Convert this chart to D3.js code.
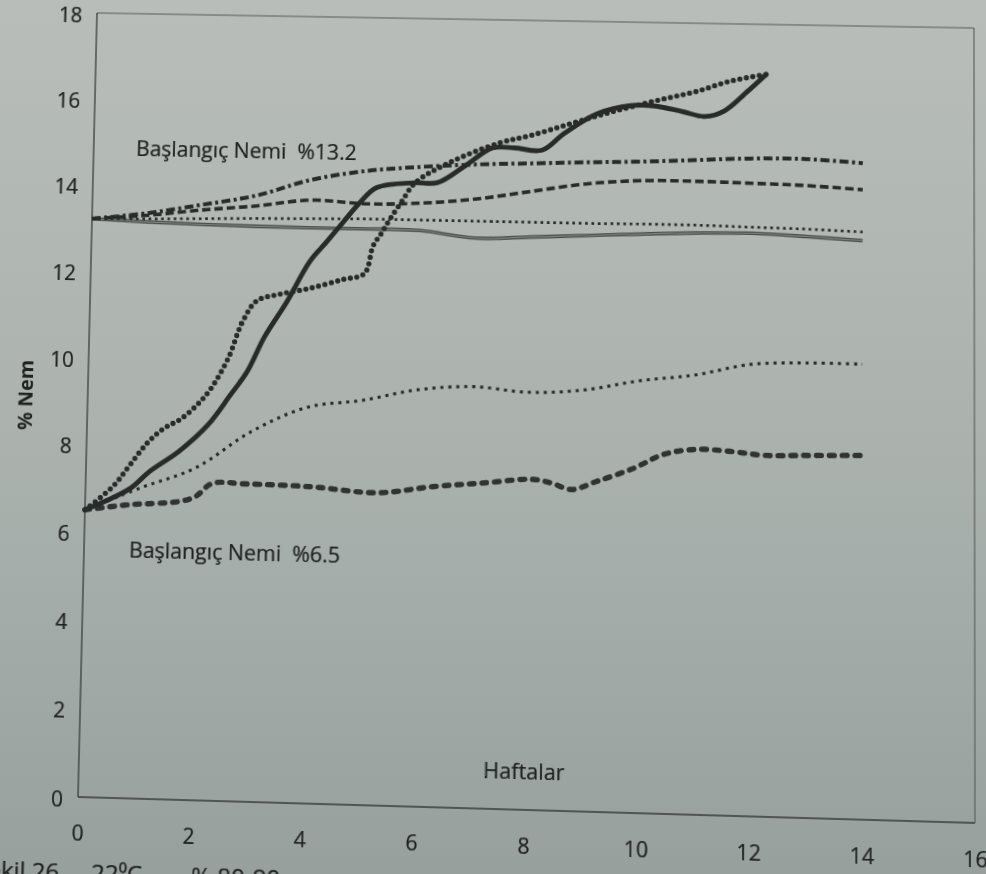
<!DOCTYPE html>
<html>
<head>
<meta charset="utf-8">
<script src="https://cdn.jsdelivr.net/npm/d3@7"></script>
<style>
  html, body { margin: 0; padding: 0; width: 986px; height: 874px; overflow: hidden; }
  body { background: linear-gradient(180deg, #b8bdb9 0%, #aeb5b1 40%, #a2aaa7 75%, #98a09d 100%); }
  #chart { position: absolute; left: 0; top: 0; }
  #chart svg { display: block; transform-origin: 0 0; overflow: visible; }
  text { font-family: "Open Sans", sans-serif; fill: #1e2120; }
</style>
</head>
<body>
<div id="chart"></div>
<script>
// Tick labels
const xTicks = [0, 2, 4, 6, 8, 10, 12, 14, 16];
const yTicks = [0, 2, 4, 6, 8, 10, 12, 14, 16, 18];

// Haftalar (weeks)
const hafta = [0, 1, 2, 3, 4, 5, 6, 7, 8, 9, 10, 11, 12, 13, 14];
const haftaKalinKesik = [0, 0.8, 1.7, 2.0, 2.3, 2.9, 4.1, 5.3, 6.3, 7.2, 8.1, 8.45, 8.8, 9.25, 9.9, 10.45, 11.05, 11.65, 12.25, 13, 14];
const haftaIriNokta = [0, 0.5, 0.8, 1.1, 1.4, 1.7, 2.0, 2.25, 2.55, 2.8, 3.05, 3.45, 4.0, 4.6, 5.0, 5.15, 5.3, 5.45, 5.65, 5.9, 6.5, 7.4, 8.0, 8.6, 9.2, 9.8, 10.4, 11.0, 11.6, 12.25];
const haftaKalinDuz = [0, 0.8, 1.15, 1.7, 2.2, 2.6, 2.9, 3.2, 3.6, 4.0, 4.3, 4.6, 4.9, 5.2, 5.9, 6.3, 6.8, 7.3, 7.7, 8.2, 8.6, 9.2, 9.8, 10.25, 10.75, 11.15, 11.5, 11.9, 12.25];

// % Nem, start 13.2
const nemNoktaCizgi = [13.2, 13.35, 13.57, 13.81, 14.2, 14.43, 14.55, 14.63, 14.68, 14.73, 14.77, 14.83, 14.89, 14.9, 14.83];
const nemKesik132 = [13.2, 13.3, 13.45, 13.57, 13.73, 13.67, 13.71, 13.83, 14.03, 14.23, 14.33, 14.34, 14.32, 14.29, 14.22];
const nemNokta132 = [13.2, 13.22, 13.25, 13.28, 13.3, 13.32, 13.32, 13.32, 13.32, 13.32, 13.33, 13.33, 13.31, 13.29, 13.25];
const nemInce132 = [13.2, 13.15, 13.12, 13.1, 13.09, 13.09, 13.08, 12.93, 12.98, 13.04, 13.1, 13.15, 13.17, 13.12, 13.05];

// % Nem, start 6.5
const nemNokta65 = [6.5, 7.03, 7.52, 8.38, 8.96, 9.15, 9.42, 9.52, 9.42, 9.5, 9.74, 9.9, 10.17, 10.23, 10.23];
const nemKalinKesik = [6.5, 6.64, 6.74, 6.86, 7.17, 7.18, 7.15, 7.05, 7.22, 7.33, 7.44, 7.36, 7.23, 7.43, 7.74, 8.08, 8.21, 8.18, 8.11, 8.13, 8.16];
const nemIriNokta = [6.5, 7.05, 7.55, 8.05, 8.4, 8.62, 8.96, 9.35, 10.05, 10.9, 11.38, 11.54, 11.69, 11.91, 12.06, 12.7, 13.0, 13.33, 13.72, 14.18, 14.65, 15.13, 15.33, 15.57, 15.81, 16.03, 16.23, 16.42, 16.67, 16.84];
const nemKalinDuz = [6.5, 7.0, 7.4, 7.9, 8.5, 9.2, 9.75, 10.55, 11.38, 12.31, 12.77, 13.24, 13.7, 14.05, 14.18, 14.19, 14.59, 15.02, 15.03, 14.99, 15.39, 15.86, 16.06, 16.06, 15.94, 15.84, 15.98, 16.42, 16.84];

// caption of the page (only its top shows at the photo edge)
const altYazi = ['Şekil 26.', '22⁰C', '% 80-90'];

const ink = '#282b2a';
const textInk = '#1e2120';

// line styles
const styles = {
  ince:       { stroke: '#4a4d4c', width: 3.6, dash: null, cap: 'butt', inner: '#7f8482' },
  nokta:      { stroke: ink, width: 2.7, dash: '2.7 3.7', cap: 'butt' },
  kesik:      { stroke: ink, width: 3.6, dash: '8.5 4', cap: 'butt' },
  noktaCizgi: { stroke: ink, width: 4, dash: '9 3.5 3 3.5', cap: 'butt' },
  noktaAlt:   { stroke: ink, width: 3.1, dash: '3.1 4.9', cap: 'butt' },
  kalinKesik: { stroke: '#303332', width: 5.4, dash: '4.7 8', cap: 'round' },
  iriNokta:   { stroke: ink, width: 5.3, dash: '0 6.6', cap: 'round' },
  kalinDuz:   { stroke: ink, width: 4.9, dash: null, cap: 'round' }
};

const series = [
  { xs: hafta, ys: nemInce132, s: styles.ince },
  { xs: hafta, ys: nemNokta132, s: styles.nokta },
  { xs: hafta, ys: nemKesik132, s: styles.kesik },
  { xs: hafta, ys: nemNoktaCizgi, s: styles.noktaCizgi },
  { xs: hafta, ys: nemNokta65, s: styles.noktaAlt },
  { xs: haftaKalinKesik, ys: nemKalinKesik, s: styles.kalinKesik },
  { xs: haftaIriNokta, ys: nemIriNokta, s: styles.iriNokta },
  { xs: haftaKalinDuz, ys: nemKalinDuz, s: styles.kalinDuz }
];

// flat chart geometry, later warped to follow the photographed page
const W = 986, H = 920;
const plot = { left: 88, top: 19, right: 976, bottom: 810 };
// where the four plot corners sit in the photo (TL, TR, BR, BL)
const photoCorners = [[97, 13], [974, 28], [975, 823], [78, 797]];

const svg = d3.select('#chart')
  .append('svg')
  .attr('width', W)
  .attr('height', H);

const x = d3.scaleLinear().domain([0, 16]).range([plot.left, plot.right]);
const y = d3.scaleLinear().domain([0, 18]).range([plot.bottom, plot.top]);

const styleTicks = (g) => g.selectAll('.tick text')
  .attr('font-size', 21)
  .attr('fill', textInk)
  .attr('stroke', textInk)
  .attr('stroke-width', 0.25)
  .attr('font-family', '"Open Sans", sans-serif');

// Y axis labels
svg.append('g')
  .attr('transform', `translate(${plot.left},0)`)
  .call(d3.axisLeft(y).tickValues(yTicks).tickSize(0).tickPadding(15))
  .call((g) => g.select('.domain').remove())
  .call(styleTicks)
  .call((g) => g.selectAll('.tick text').attr('dy', '0.45em'));

// X axis labels
svg.append('g')
  .attr('transform', `translate(0,${plot.bottom})`)
  .call(d3.axisBottom(x).tickValues(xTicks).tickSize(0).tickPadding(28))
  .call((g) => g.select('.domain').remove())
  .call(styleTicks);

// plot frame
svg.append('line')
  .attr('x1', plot.left).attr('x2', plot.right)
  .attr('y1', plot.top).attr('y2', plot.top)
  .attr('stroke', '#565a58').attr('stroke-width', 1.1);
svg.append('line')
  .attr('x1', plot.right).attr('x2', plot.right)
  .attr('y1', plot.top).attr('y2', plot.bottom)
  .attr('stroke', '#565a58').attr('stroke-width', 1.1);
svg.append('line')
  .attr('x1', plot.left).attr('x2', plot.left)
  .attr('y1', plot.top).attr('y2', plot.bottom)
  .attr('stroke', '#383b3a').attr('stroke-width', 1.3);
svg.append('line')
  .attr('x1', plot.left).attr('x2', plot.right)
  .attr('y1', plot.bottom).attr('y2', plot.bottom)
  .attr('stroke', '#383b3a').attr('stroke-width', 1.6);

// Lines
const line = d3.line()
  .x((d) => x(d[0]))
  .y((d) => y(d[1]))
  .curve(d3.curveCatmullRom.alpha(0.5));

series.forEach((sr) => {
  const pts = sr.xs.map((v, i) => [v, sr.ys[i]]);
  const p = svg.append('path')
    .attr('fill', 'none')
    .attr('stroke', sr.s.stroke)
    .attr('stroke-width', sr.s.width)
    .attr('stroke-linecap', sr.s.cap)
    .attr('stroke-linejoin', 'round')
    .attr('d', line(pts));
  if (sr.s.dash) p.attr('stroke-dasharray', sr.s.dash);
  if (sr.s.inner) {
    svg.append('path')
      .attr('fill', 'none')
      .attr('stroke', sr.s.inner)
      .attr('stroke-width', 1.1)
      .attr('d', line(pts));
  }
});

// Annotations
const label = (txt, px, py, size) => svg.append('text')
  .attr('x', px).attr('y', py)
  .attr('dy', '0.35em')
  .attr('font-size', size)
  .attr('stroke', textInk)
  .attr('stroke-width', 0.25)
  .style('white-space', 'pre')
  .text(txt);

label('Başlangıç Nemi  %13.2', x(0.78), y(14.85), 21.5);
label('Başlangıç Nemi  %6.5', x(0.82), y(5.6), 21.5);
label('Haftalar', x(8.0), y(0.85), 21.5).attr('text-anchor', 'middle');

svg.append('text')
  .attr('transform', `translate(${plot.left - 63},${y(9.1)}) rotate(-90)`)
  .attr('dy', '0.35em')
  .attr('text-anchor', 'middle')
  .attr('font-size', 20)
  .attr('font-weight', 700)
  .style('white-space', 'pre')
  .text('% Nem');

// caption, cut by the bottom edge as in the photo
const cap = svg.append('text')
  .attr('y', 893)
  .attr('font-size', 24)
  .attr('stroke', textInk)
  .attr('stroke-width', 0.25);
cap.selectAll('tspan')
  .data(altYazi)
  .join('tspan')
  .attr('x', (d, i) => [-14, 103, 203][i])
  .text((d) => d);

// perspective of the photo: map flat plot corners to the photographed ones
function homography(src, dst) {
  const A = [], b = [];
  for (let i = 0; i < 4; i++) {
    const [sx, sy] = src[i], [dx, dy] = dst[i];
    A.push([sx, sy, 1, 0, 0, 0, -sx * dx, -sy * dx]); b.push(dx);
    A.push([0, 0, 0, sx, sy, 1, -sx * dy, -sy * dy]); b.push(dy);
  }
  const n = 8;
  for (let c = 0; c < n; c++) {
    let p = c;
    for (let r = c + 1; r < n; r++) if (Math.abs(A[r][c]) > Math.abs(A[p][c])) p = r;
    [A[c], A[p]] = [A[p], A[c]];
    [b[c], b[p]] = [b[p], b[c]];
    for (let r = 0; r < n; r++) {
      if (r === c) continue;
      const f = A[r][c] / A[c][c];
      for (let k = c; k < n; k++) A[r][k] -= f * A[c][k];
      b[r] -= f * b[c];
    }
  }
  return b.map((v, i) => v / A[i][i]);
}

const flatCorners = [
  [plot.left, plot.top], [plot.right, plot.top],
  [plot.right, plot.bottom], [plot.left, plot.bottom]
];
const [ha, hb, hc, hd, he, hf, hg, hh] = homography(flatCorners, photoCorners);
svg.style('transform',
  `matrix3d(${ha},${hd},0,${hg},${hb},${he},0,${hh},0,0,1,0,${hc},${hf},0,1)`);
</script>
</body>
</html>
